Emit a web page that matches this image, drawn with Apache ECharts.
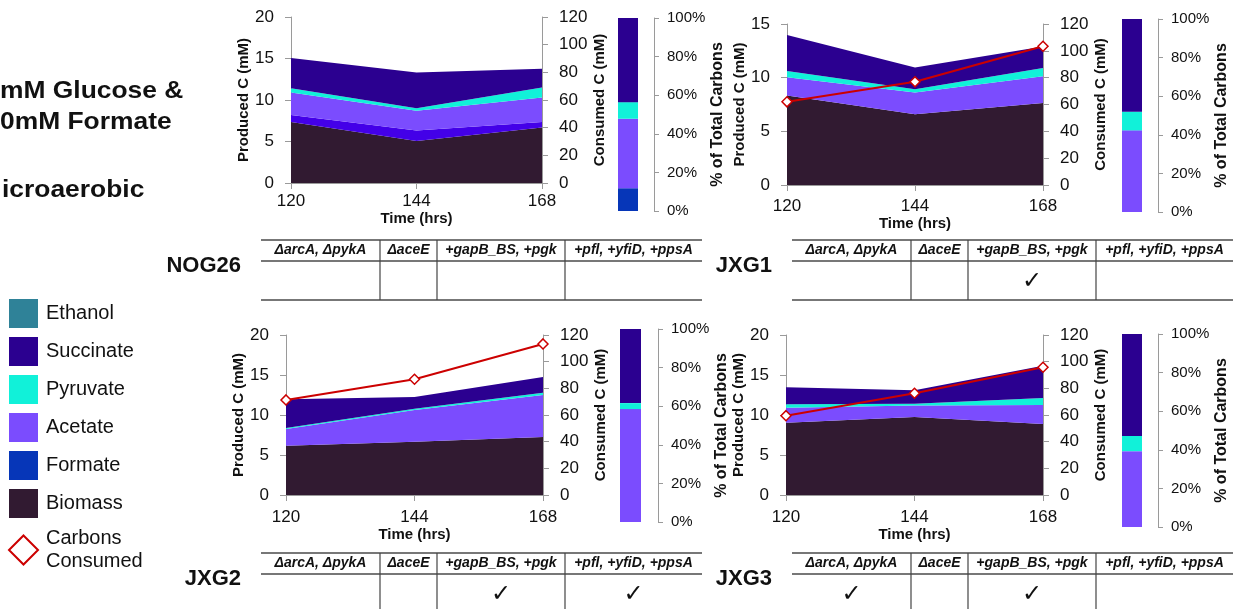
<!DOCTYPE html>
<html>
<head>
<meta charset="utf-8">
<script src="https://cdn.jsdelivr.net/npm/echarts@6/dist/echarts.min.js"></script>
<style>
html,body{margin:0;padding:0;background:#fff;}
#chart{width:1239px;height:609px;}
</style>
</head>
<body>
<div id="chart"></div>
<script>
// ---------- DATA ----------
const times = ['120', '144', '168'];

// NOG26 (produced carbon layers, mM)
const nog26Biomass   = [7.36, 5.07, 6.68];
const nog26Formate   = [0.84, 1.25, 0.68];
const nog26Acetate   = [2.70, 2.37, 2.94];
const nog26Pyruvate  = [0.53, 0.31, 1.20];
const nog26Succinate = [3.62, 4.30, 2.26];
const nog26Ethanol   = [0, 0, 0];

// JXG1
const jxg1Biomass   = [8.34, 6.60, 7.65];
const jxg1Acetate   = [1.70, 2.01, 2.48];
const jxg1Pyruvate  = [0.59, 0.31, 0.77];
const jxg1Succinate = [3.35, 2.02, 2.00];
const jxg1Consumed  = [62.0, 76.9, 103.4];

// JXG2
const jxg2Biomass   = [6.17, 6.67, 7.25];
const jxg2Acetate   = [2.08, 3.96, 5.25];
const jxg2Pyruvate  = [0.12, 0.16, 0.29];
const jxg2Succinate = [3.59, 1.46, 1.96];
const jxg2Consumed  = [71.3, 86.8, 113.3];

// JXG3
const jxg3Biomass   = [9.04, 9.75, 8.88];
const jxg3Acetate   = [1.88, 1.45, 2.37];
const jxg3Pyruvate  = [0.41, 0.22, 0.88];
const jxg3Succinate = [2.13, 1.66, 4.04];
const jxg3Consumed  = [59.5, 76.3, 95.8];

// % of total carbons bars: [Formate, Acetate, Pyruvate, Succinate]
const pctNames = ['Formate', 'Acetate', 'Pyruvate', 'Succinate'];
const nog26Pct = [11.8, 36.0, 8.6, 43.6];
const jxg1Pct  = [0, 42.3, 9.7, 48.0];
const jxg2Pct  = [0, 58.5, 3.1, 38.4];
const jxg3Pct  = [0, 39.3, 7.9, 52.8];

// genetic modification tables
const modHeaders = ['ΔarcA, ΔpykA', 'ΔaceE', '+gapB_BS, +pgk', '+pfl, +yfiD, +ppsA'];
const strainNames = ['NOG26', 'JXG1', 'JXG2', 'JXG3'];
const nog26Mods = [0, 0, 0, 0];
const jxg1Mods  = [0, 0, 1, 0];
const jxg2Mods  = [0, 0, 1, 1];
const jxg3Mods  = [1, 0, 1, 0];

const leftTicksMax = [20, 15, 20, 20];
const legendNames = ['Ethanol', 'Succinate', 'Pyruvate', 'Acetate', 'Formate', 'Biomass', 'Carbons Consumed'];
const titleLines = ['mM Glucose &', '0mM Formate', 'icroaerobic'];

// ---------- STYLE ----------
const FONT = '"Liberation Sans", Arial, Helvetica, sans-serif';
const COL = {
  Ethanol: '#2f8298',
  Succinate: '#2b0090',
  Pyruvate: '#11f1d9',
  Acetate: '#7b4cfe',
  Formate: '#0636b8',
  FormateArea: '#4300e8',
  Biomass: '#311a31',
  Line: '#cc0000'
};
const AX = '#9a9a9a';

const panels = [
  { layers: [['Biomass', nog26Biomass], ['Formate', nog26Formate], ['Acetate', nog26Acetate], ['Pyruvate', nog26Pyruvate], ['Succinate', nog26Succinate], ['Ethanol', nog26Ethanol]],
    consumed: null, pct: nog26Pct, mods: nog26Mods,
    grid: {left: 291, top: 17, width: 251, height: 166}, xMargin: 10, xNameGap: 22, lNameGap: 40,
    bar: {left: 602, top: 18, width: 52, height: 193}, barW: 20,
    table: {x: 261, y: 240}, bottomLine: true },
  { layers: [['Biomass', jxg1Biomass], ['Acetate', jxg1Acetate], ['Pyruvate', jxg1Pyruvate], ['Succinate', jxg1Succinate]],
    consumed: jxg1Consumed, pct: jxg1Pct, mods: jxg1Mods,
    grid: {left: 787, top: 24, width: 256, height: 161}, xMargin: 13, xNameGap: 31, lNameGap: 37,
    bar: {left: 1106, top: 19, width: 52, height: 193}, barW: 20,
    table: {x: 792, y: 240}, bottomLine: true },
  { layers: [['Biomass', jxg2Biomass], ['Acetate', jxg2Acetate], ['Pyruvate', jxg2Pyruvate], ['Succinate', jxg2Succinate]],
    consumed: jxg2Consumed, pct: jxg2Pct, mods: jxg2Mods,
    grid: {left: 286, top: 335, width: 257, height: 160}, xMargin: 14, xNameGap: 32, lNameGap: 37,
    bar: {left: 603, top: 329, width: 55, height: 193}, barW: 21,
    table: {x: 261, y: 553}, bottomLine: false },
  { layers: [['Biomass', jxg3Biomass], ['Acetate', jxg3Acetate], ['Pyruvate', jxg3Pyruvate], ['Succinate', jxg3Succinate]],
    consumed: jxg3Consumed, pct: jxg3Pct, mods: jxg3Mods,
    grid: {left: 786, top: 335, width: 257, height: 160}, xMargin: 14, xNameGap: 32, lNameGap: 36,
    bar: {left: 1106, top: 334, width: 52, height: 193}, barW: 20,
    table: {x: 792, y: 553}, bottomLine: false }
];

const grids = [], xAxes = [], yAxes = [], series = [], graphics = [];
const axisBase = {
  axisLine: {show: true, lineStyle: {color: AX, width: 1}},
  axisTick: {show: true, length: 6, lineStyle: {color: AX}},
  splitLine: {show: false},
  axisLabel: {fontSize: 17, color: '#111', fontFamily: FONT}
};

panels.forEach((p, i) => {
  const gA = grids.length;
  grids.push(Object.assign({containLabel: false}, p.grid));
  const gB = grids.length;
  grids.push(Object.assign({containLabel: false}, p.bar));

  const xA = xAxes.length;
  xAxes.push(Object.assign({}, axisBase, {
    gridIndex: gA, type: 'category', data: times, boundaryGap: false,
    axisLabel: {fontSize: 17, color: '#111', fontFamily: FONT, margin: p.xMargin},
    axisTick: {show: true, length: 6, alignWithLabel: true, lineStyle: {color: AX}},
    name: 'Time (hrs)', nameLocation: 'middle', nameGap: p.xNameGap,
    nameTextStyle: {fontWeight: 'bold', fontSize: 15, color: '#111', fontFamily: FONT}
  }));
  const xB = xAxes.length;
  xAxes.push({gridIndex: gB, type: 'category', data: ['%'], show: false});

  const yL = yAxes.length;
  yAxes.push(Object.assign({}, axisBase, {
    gridIndex: gA, type: 'value', position: 'left', min: 0, max: leftTicksMax[i], interval: 5,
    axisLabel: {fontSize: 17, color: '#111', fontFamily: FONT, margin: 17},
    name: 'Produced C (mM)', nameLocation: 'middle', nameGap: p.lNameGap,
    nameTextStyle: {fontWeight: 'bold', fontSize: 15, color: '#111', fontFamily: FONT}
  }));
  const yR = yAxes.length;
  yAxes.push(Object.assign({}, axisBase, {
    gridIndex: gA, type: 'value', position: 'right', min: 0, max: 120, interval: 20,
    axisLabel: {fontSize: 17, color: '#111', fontFamily: FONT, margin: 17},
    name: 'Consumed C (mM)', nameLocation: 'middle', nameGap: 50,
    nameTextStyle: {fontWeight: 'bold', fontSize: 15, color: '#111', fontFamily: FONT}
  }));
  const yP = yAxes.length;
  yAxes.push(Object.assign({}, axisBase, {
    gridIndex: gB, type: 'value', position: 'right', min: 0, max: 100, interval: 20,
    axisTick: {show: true, length: 5, lineStyle: {color: AX}},
    axisLabel: {fontSize: 15, color: '#111', fontFamily: FONT, margin: 13, formatter: '{value}%'},
    name: '% of Total Carbons', nameLocation: 'middle', nameGap: 49,
    nameTextStyle: {fontWeight: 'bold', fontSize: 16, color: '#111', fontFamily: FONT}
  }));

  p.layers.forEach(([name, data]) => {
    const c = (name === 'Formate') ? COL.FormateArea : COL[name];
    series.push({
      type: 'line', name, data, xAxisIndex: xA, yAxisIndex: yL, stack: 'area' + i,
      symbol: 'none', showSymbol: false, lineStyle: {width: 0}, itemStyle: {color: c},
      areaStyle: {color: c, opacity: 1}, z: 2, silent: true
    });
  });
  if (p.consumed) {
    series.push({
      type: 'line', name: 'Carbons Consumed', data: p.consumed, xAxisIndex: xA, yAxisIndex: yR,
      symbol: 'diamond', symbolSize: 10, lineStyle: {color: COL.Line, width: 2},
      itemStyle: {color: '#fff', borderColor: COL.Line, borderWidth: 1.5}, z: 5
    });
  }
  p.pct.forEach((v, k) => {
    if (v > 0) {
      series.push({
        type: 'bar', name: pctNames[k], data: [v], xAxisIndex: xB, yAxisIndex: yP,
        stack: 'bar' + i, barWidth: p.barW, itemStyle: {color: COL[pctNames[k]]}, z: 2
      });
    }
  });

  // ---- modification table ----
  const colEdges = [0, 119, 176, 304, 441];
  const tx = p.table.x, ty = p.table.y;
  const hy = ty + 21, by = p.bottomLine ? ty + 60 : 614;
  graphics.push({type: 'line', shape: {x1: tx, y1: ty, x2: tx + colEdges[4], y2: ty}, style: {stroke: '#777', lineWidth: 2}});
  graphics.push({type: 'line', shape: {x1: tx, y1: hy, x2: tx + colEdges[4], y2: hy}, style: {stroke: '#777', lineWidth: 2}});
  if (p.bottomLine) {
    graphics.push({type: 'line', shape: {x1: tx, y1: by, x2: tx + colEdges[4], y2: by}, style: {stroke: '#777', lineWidth: 2}});
  }
  for (let k = 1; k < 4; k++) {
    graphics.push({type: 'line', shape: {x1: tx + colEdges[k], y1: ty, x2: tx + colEdges[k], y2: by}, style: {stroke: '#444', lineWidth: 1.2}});
  }
  modHeaders.forEach((h, k) => {
    const cx = tx + (colEdges[k] + colEdges[k + 1]) / 2;
    graphics.push({type: 'text', x: cx, y: ty + 10.5, style: {text: h, fontSize: 14, fontWeight: 'bold', fontStyle: 'italic', fontFamily: FONT, fill: '#111', align: 'center', verticalAlign: 'middle'}});
    if (p.mods[k]) {
      graphics.push({type: 'text', x: cx, y: hy + 21, style: {text: '✓', fontSize: 24, fontFamily: '"DejaVu Sans", sans-serif', fill: '#111', align: 'center', verticalAlign: 'middle'}});
    }
  });
  graphics.push({type: 'text', x: tx - 20, y: ty + 26, style: {text: strainNames[i], fontSize: 22, fontWeight: 'bold', fontFamily: FONT, fill: '#111', align: 'right', verticalAlign: 'middle'}});
});

// title block
const titleMid = [91, 122, 190];
titleLines.forEach((t, k) => {
  graphics.push({type: 'text', x: k === 2 ? 2 : 0, y: titleMid[k], scaleX: 1.1,
    style: {text: t, fontSize: 24, fontWeight: 'bold', fontFamily: FONT, fill: '#111', align: 'left', verticalAlign: 'middle'}});
});

const legendData = legendNames.map(n => {
  if (n === 'Carbons Consumed') {
    return {name: n, icon: 'diamond', itemStyle: {color: '#fff', borderColor: COL.Line, borderWidth: 2}};
  }
  return {name: n, icon: 'rect', itemStyle: {color: COL[n], borderColor: COL[n], borderWidth: 0}};
});

const chart = echarts.init(document.getElementById('chart'), null, {renderer: 'canvas'});
chart.setOption({
  animation: false,
  backgroundColor: '#fff',
  textStyle: {fontFamily: FONT},
  grid: grids,
  xAxis: xAxes,
  yAxis: yAxes,
  series: series,
  legend: {
    orient: 'vertical', left: 8, top: 299, padding: 0, itemWidth: 29, itemHeight: 29, itemGap: 9,
    selectedMode: false,
    textStyle: {fontSize: 20, color: '#111', fontFamily: FONT, lineHeight: 23, padding: [0, 0, 0, 3]},
    formatter: n => n === 'Carbons Consumed' ? 'Carbons\nConsumed' : n,
    data: legendData
  },
  graphic: graphics
});
</script>
</body>
</html>
